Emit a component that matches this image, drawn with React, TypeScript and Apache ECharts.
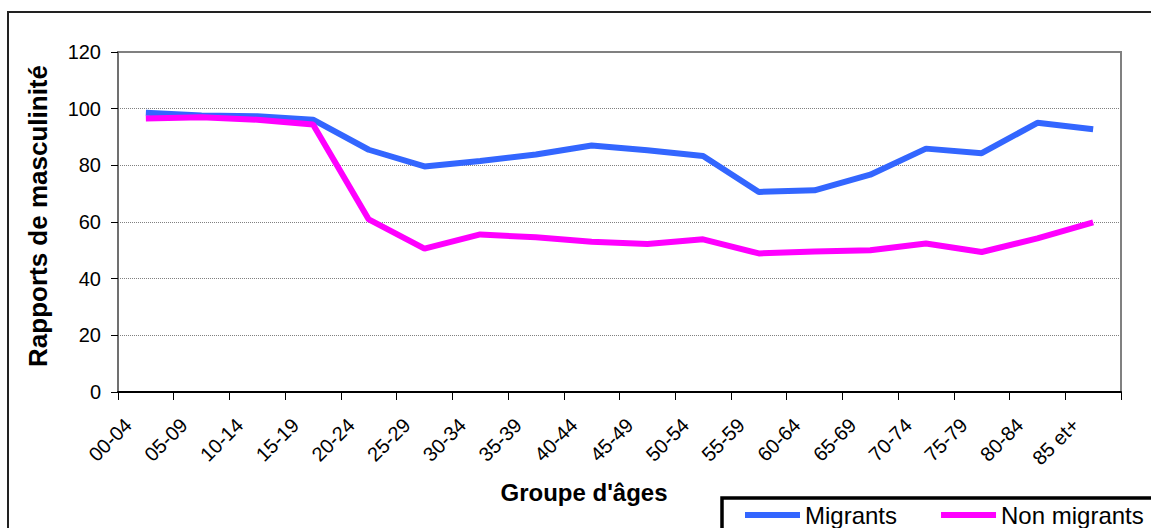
import React, { useEffect, useRef } from "react";
import * as echarts from "echarts";

const categories = ["00-04", "05-09", "10-14", "15-19", "20-24", "25-29", "30-34", "35-39", "40-44", "45-49", "50-54", "55-59", "60-64", "65-69", "70-74", "75-79", "80-84", "85 et+"];
const migrants = [98.6, 97.6, 97.3, 96.1, 85.5, 79.6, 81.5, 83.8, 87.0, 85.3, 83.3, 70.6, 71.2, 76.7, 85.9, 84.3, 95.0, 92.7];
const nonMigrants = [96.5, 97.0, 96.1, 94.4, 60.9, 50.6, 55.6, 54.6, 53.0, 52.2, 53.9, 48.9, 49.6, 50.0, 52.4, 49.4, 54.2, 59.9];
const seriesNames = ["Migrants", "Non migrants"];
const yTitle = "Rapports de masculinité";
const xTitle = "Groupe d'âges";

const FONT = "Arial, 'Liberation Sans', sans-serif";

export default function App() {
  const ref = useRef<HTMLDivElement>(null);
  useEffect(() => {
    if (!ref.current) return;
    const chart = echarts.init(ref.current, null, { renderer: "svg" });
    chart.setOption({
      animation: false,
      backgroundColor: "#ffffff",
      textStyle: { fontFamily: FONT },
      grid: {
        left: 118,
        right: 30,
        top: 52,
        bottom: 136,
        show: true,
        borderColor: "#808080",
        borderWidth: 2,
        backgroundColor: "#ffffff",
      },
      legend: {
        left: 740,
        top: 498,
        icon: "rect",
        itemWidth: 55,
        itemHeight: 6,
        itemGap: 44,
        textStyle: { fontSize: 24, color: "#000", fontFamily: FONT },
        data: seriesNames,
      },
      xAxis: {
        type: "category",
        data: categories,
        boundaryGap: true,
        axisLine: { show: true, lineStyle: { color: "#000", width: 2 } },
        axisTick: { show: true, length: 8, lineStyle: { color: "#000", width: 1 } },
        axisLabel: { rotate: 45, fontSize: 20, color: "#000", margin: 12, padding: [0, 25, 0, 0], interval: 0, fontFamily: FONT },
        splitLine: { show: false },
      },
      yAxis: {
        type: "value",
        min: 0,
        max: 120,
        interval: 20,
        axisLine: { show: true, lineStyle: { color: "#707070", width: 2 } },
        axisTick: { show: true, length: 7, lineStyle: { color: "#000", width: 1 } },
        axisLabel: { fontSize: 20, color: "#000", margin: 17, fontFamily: FONT },
        splitLine: { show: true, lineStyle: { color: "#808080", type: "dotted", width: 1 } },
      },
      graphic: [
        {
          type: "rect",
          shape: { x: 8, y: 12, width: 1200, height: 600 },
          style: { fill: "none", stroke: "#222", lineWidth: 2 },
          silent: true,
          z: -10,
        },
        {
          type: "rect",
          shape: { x: 722, y: 498, width: 500, height: 100 },
          style: { fill: "none", stroke: "#000", lineWidth: 3.5 },
          silent: true,
        },
        {
          type: "text",
          x: 584,
          y: 492,
          style: { text: xTitle, font: `bold 24px ${FONT}`, fill: "#000", align: "center", verticalAlign: "middle" },
        },
        {
          type: "text",
          x: 38,
          y: 216,
          rotation: Math.PI / 2,
          style: { text: yTitle, font: `bold 26px ${FONT}`, fill: "#000", align: "center", verticalAlign: "middle" },
        },
      ],
      series: [
        {
          name: seriesNames[0],
          type: "line",
          data: migrants,
          symbol: "none",
          lineStyle: { color: "#3366FF", width: 6 },
          itemStyle: { color: "#3366FF" },
        },
        {
          name: seriesNames[1],
          type: "line",
          data: nonMigrants,
          symbol: "none",
          lineStyle: { color: "#FF00FF", width: 6 },
          itemStyle: { color: "#FF00FF" },
        },
      ],
    });
    return () => chart.dispose();
  }, []);
  return <div ref={ref} style={{ position: "absolute", left: 0, top: 0, width: 1151, height: 528 }} />;
}
